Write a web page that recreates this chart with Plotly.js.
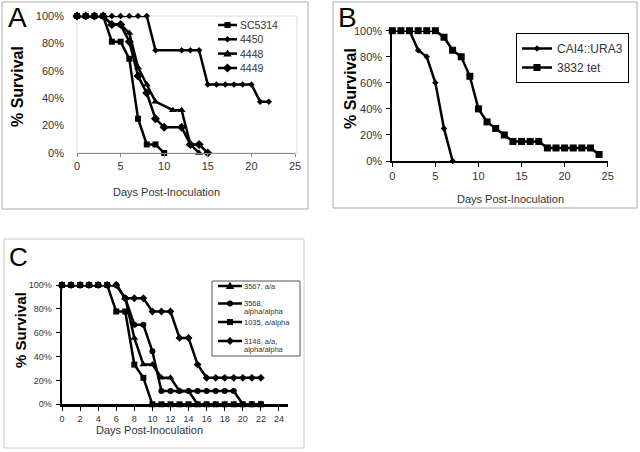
<!DOCTYPE html>
<html>
<head>
<meta charset="utf-8">
<script src="https://cdn.plot.ly/plotly-3.0.1.min.js"></script>
<style>html,body{margin:0;padding:0;background:#fff;}#chart{width:640px;height:452px;}</style>
</head>
<body>
<div id="chart"></div>
<script>
// ---------- Panel A ----------
const namesA = ['SC5314', '4450', '4448', '4449'];
const daysA_SC5314 = [0,1,2,3,4,5,6,7,8,9,10];
const survA_SC5314 = [100,100,100,100,81.25,81.25,68.75,25,6.25,6.25,0];
const daysA_4450 = [0,1,2,3,4,5,6,7,8,9,12,13,14,15,16,17,18,19,20,21,22];
const survA_4450 = [100,100,100,100,100,100,100,100,100,75,75,75,75,50,50,50,50,50,50,37.5,37.5];
const daysA_4448 = [0,1,2,3,4,5,6,7,8,9,11,12,13,14];
const survA_4448 = [100,100,100,100,93.75,93.75,87.5,62.5,50,37.5,31.25,31.25,6.25,0];
const daysA_4449 = [0,1,2,3,4,5,6,7,8,9,10,12,13,14,15];
const survA_4449 = [100,100,100,100,93.75,93.75,81.25,56.25,43.75,25,18.75,18.75,6.25,6.25,0];

// ---------- Panel B ----------
const namesB = ['CAI4::URA3', '3832 tet'];
const daysB_CAI4 = [0,1,2,3,4,5,6,7];
const survB_CAI4 = [100,100,100,85,80,60,25,0];
const daysB_3832 = [0,1,2,3,4,5,6,7,8,9,10,11,12,13,14,15,16,17,18,19,20,21,22,23,24];
const survB_3832 = [100,100,100,100,100,100,95,85,80,65,40,30,25,20,15,15,15,15,10,10,10,10,10,10,5];

// ---------- Panel C ----------
const namesC = ['3567, a/a', '3568,<br>alpha/alpha', '1035, a/alpha', '3148, a/a,<br>alpha/alpha'];
const daysC = [0,1,2,3,4,5,6,7,8,9,10,11,12,13,14,15,16,17,18,19,20,21,22];
const survC_3567 = [100,100,100,100,100,100,100,88.9,55.6,33.3,33.3,22.2,22.2,11.1,11.1,0,0,0,0,0,0,0,0];
const survC_3568 = [100,100,100,100,100,100,100,88.9,66.7,66.7,44.4,11.1,11.1,11.1,11.1,11.1,11.1,11.1,11.1,11.1,0,0,0];
const survC_1035 = [100,100,100,100,100,100,77.8,77.8,33.3,22.2,0,0,0,0,0,0,0,0,0,0,0,0,0];
const survC_3148 = [100,100,100,100,100,100,100,88.9,88.9,88.9,77.8,77.8,77.8,55.6,55.6,33.3,22.2,22.2,22.2,22.2,22.2,22.2,22.2];

const tickA = [0,5,10,15,20,25];
const tickC = [0,2,4,6,8,10,12,14,16,18,20,22,24];
const tickY = [0,20,40,60,80,100];
const tickYText = ['0%','20%','40%','60%','80%','100%'];

const W = 640, H = 452;
const px = v => v / W;
const py = v => 1 - v / H;
const FONT = 'Liberation Sans, Arial, sans-serif';

const symA = ['square', 'diamond', 'triangle-up', 'diamond'];
const sizeA = [6, 5, 7, 7];
const symB = ['diamond', 'square'];
const sizeB = [5, 7];
const symC = ['triangle-up', 'circle', 'square', 'diamond'];
const sizeC = [7, 6, 6, 6];

function tr(x, y, name, symbol, size, xa, ya, leg, show) {
  return {
    type: 'scatter', mode: 'lines+markers', x: x, y: y, name: name,
    xaxis: xa, yaxis: ya, legend: leg, showlegend: show, cliponaxis: false,
    line: {color: '#000', width: 2.5},
    marker: {symbol: symbol, size: size, color: '#000'}
  };
}

const data = [
  tr(daysA_SC5314, survA_SC5314, namesA[0], symA[0], sizeA[0], 'x', 'y', 'legend', false),
  tr(daysA_4450, survA_4450, namesA[1], symA[1], sizeA[1], 'x', 'y', 'legend', false),
  tr(daysA_4448, survA_4448, namesA[2], symA[2], sizeA[2], 'x', 'y', 'legend', false),
  tr(daysA_4449, survA_4449, namesA[3], symA[3], sizeA[3], 'x', 'y', 'legend', false),
  tr(daysB_CAI4, survB_CAI4, namesB[0], symB[0], sizeB[0], 'x2', 'y2', 'legend2', true),
  tr(daysB_3832, survB_3832, namesB[1], symB[1], sizeB[1], 'x2', 'y2', 'legend2', true),
  tr(daysC, survC_3567, namesC[0], symC[0], sizeC[0], 'x3', 'y3', 'legend3', false),
  tr(daysC, survC_3568, namesC[1], symC[1], sizeC[1], 'x3', 'y3', 'legend3', false),
  tr(daysC, survC_1035, namesC[2], symC[2], sizeC[2], 'x3', 'y3', 'legend3', false),
  tr(daysC, survC_3148, namesC[3], symC[3], sizeC[3], 'x3', 'y3', 'legend3', false)
];

function xax(d0, d1, ya, tv, col, lw, tf, tl) {
  return {domain: [px(d0), px(d1)], range: [0, 25], anchor: ya, tickmode: 'array', tickvals: tv,
    showgrid: false, zeroline: false, showline: true, linecolor: col, linewidth: lw,
    ticks: 'outside', ticklen: tl, tickcolor: col, tickwidth: 1,
    tickfont: {family: FONT, size: tf, color: '#333'}, fixedrange: true};
}
function yax(d0, d1, xa, col, lw, tf, show, standoff) {
  return {domain: [py(d1), py(d0)], range: [0, 100], anchor: xa, tickmode: 'array',
    tickvals: tickY, ticktext: tickYText,
    showgrid: false, zeroline: false, showline: show, linecolor: col, linewidth: lw,
    ticks: show ? 'outside' : '', ticklen: 4, tickcolor: col, ticklabelstandoff: standoff,
    tickfont: {family: FONT, size: tf, color: '#333'}, fixedrange: true};
}

// ---- manual legend helpers (layout decoration only) ----
function markerPath(sym, cx, cy, s) {
  const r = s / 2;
  let pts;
  if (sym === 'square') pts = [[cx-r,cy-r],[cx+r,cy-r],[cx+r,cy+r],[cx-r,cy+r]];
  else if (sym === 'diamond') { const d = r * 1.3; pts = [[cx,cy-d],[cx+d,cy],[cx,cy+d],[cx-d,cy]]; }
  else if (sym === 'triangle-up') { const d = r * 1.2; pts = [[cx,cy-d],[cx+d,cy+d*0.7],[cx-d,cy+d*0.7]]; }
  if (sym === 'circle') {
    return {type: 'circle', xref: 'paper', yref: 'paper', x0: px(cx-r), x1: px(cx+r), y0: py(cy+r), y1: py(cy-r),
      fillcolor: '#000', line: {width: 0}};
  }
  const p = pts.map((q, i) => (i ? 'L' : 'M') + px(q[0]) + ',' + py(q[1])).join(' ') + ' Z';
  return {type: 'path', xref: 'paper', yref: 'paper', path: p, fillcolor: '#000', line: {width: 0}};
}
function legendRow(shapes, anns, name, sym, size, x0, x1, y, tx, fs, lineGap) {
  shapes.push({type: 'line', xref: 'paper', yref: 'paper', x0: px(x0), x1: px(x1), y0: py(y), y1: py(y), line: {color: '#000', width: 2.5}});
  shapes.push(markerPath(sym, (x0 + x1) / 2, y, size));
  name.split('<br>').forEach((line, k) => {
    anns.push({text: line, x: px(tx), y: py(y + k * lineGap), xref: 'paper', yref: 'paper',
      xanchor: 'left', yanchor: 'middle', align: 'left', showarrow: false,
      font: {family: FONT, size: fs, color: '#333'}});
  });
}

const shapes = [
  {type: 'rect', xref: 'paper', yref: 'paper', x0: px(2), x1: px(308), y0: py(209), y1: py(2), line: {color: '#aaa', width: 1}},
  {type: 'rect', xref: 'paper', yref: 'paper', x0: px(333), x1: px(637), y0: py(208), y1: py(2), line: {color: '#aaa', width: 1}},
  {type: 'rect', xref: 'paper', yref: 'paper', x0: px(4), x1: px(304), y0: py(448), y1: py(239), line: {color: '#ccc', width: 1}},
  {type: 'rect', xref: 'paper', yref: 'paper', x0: px(77), x1: px(297), y0: py(153), y1: py(16), line: {color: '#ddd', width: 1}, layer: 'below'},
  {type: 'rect', xref: 'paper', yref: 'paper', x0: px(212), x1: px(300), y0: py(356), y1: py(281), line: {color: '#555', width: 1}}
];

function ann(text, x, y, size, extra) {
  return Object.assign({text: text, x: px(x), y: py(y), xref: 'paper', yref: 'paper', xanchor: 'center', yanchor: 'middle',
    showarrow: false, font: {family: FONT, size: size, color: '#000'}}, extra || {});
}
const annotations = [
  ann('A', 17, 18, 28),
  ann('B', 347, 18, 28),
  ann('C', 18, 257, 26),
  ann('% Survival', 17, 87, 16, {textangle: -90, font: {family: FONT, size: 16, color: '#000', weight: 'bold'}}),
  ann('% Survival', 350, 89, 16, {textangle: -90, font: {family: FONT, size: 16, color: '#000', weight: 'bold'}}),
  ann('% Survival', 20, 330, 15, {textangle: -90, font: {family: FONT, size: 15, color: '#000', weight: 'bold'}}),
  ann('Days Post-Inoculation', 166, 192, 11, {font: {family: FONT, size: 11, color: '#333'}}),
  ann('Days Post-Inoculation', 510, 199, 11, {font: {family: FONT, size: 11, color: '#333'}}),
  ann('Days Post-Inoculation', 149, 430, 11, {font: {family: FONT, size: 11, color: '#333'}})
];

const rowsA = [25, 39.3, 53.6, 68];
namesA.forEach((n, i) => legendRow(shapes, annotations, n, symA[i], sizeA[i], 218, 237, rowsA[i], 238, 10.5, 0));
const rowsC = [286, 303.5, 322, 341];
namesC.forEach((n, i) => legendRow(shapes, annotations, n, symC[i], sizeC[i], 218, 242, rowsC[i], 242, 7.5, 8));

const layout = {
  width: W, height: H,
  margin: {l: 0, r: 0, t: 0, b: 0},
  paper_bgcolor: '#fff', plot_bgcolor: 'rgba(0,0,0,0)',
  font: {family: FONT, color: '#000'},
  showlegend: true,
  xaxis: xax(77, 295, 'y', tickA, '#888', 1, 11, 3),
  yaxis: yax(16, 153, 'x', '#888', 1, 11, false, 12),
  xaxis2: xax(392.3, 607.7, 'y2', tickA, '#000', 2, 11, 4),
  yaxis2: yax(30.7, 161, 'x2', '#000', 2, 11, true, 2),
  xaxis3: xax(62, 288, 'y3', tickC, '#000', 2.5, 9, 4),
  yaxis3: yax(285, 404.3, 'x3', '#000', 2.5, 9, true, 2),
  legend2: {x: px(516), y: py(33), xanchor: 'left', yanchor: 'top', bgcolor: '#fff',
    bordercolor: '#000', borderwidth: 1, font: {family: FONT, size: 12, color: '#333'}},
  shapes: shapes,
  annotations: annotations
};

Plotly.newPlot('chart', data, layout, {displayModeBar: false, staticPlot: true});
</script>
</body>
</html>
